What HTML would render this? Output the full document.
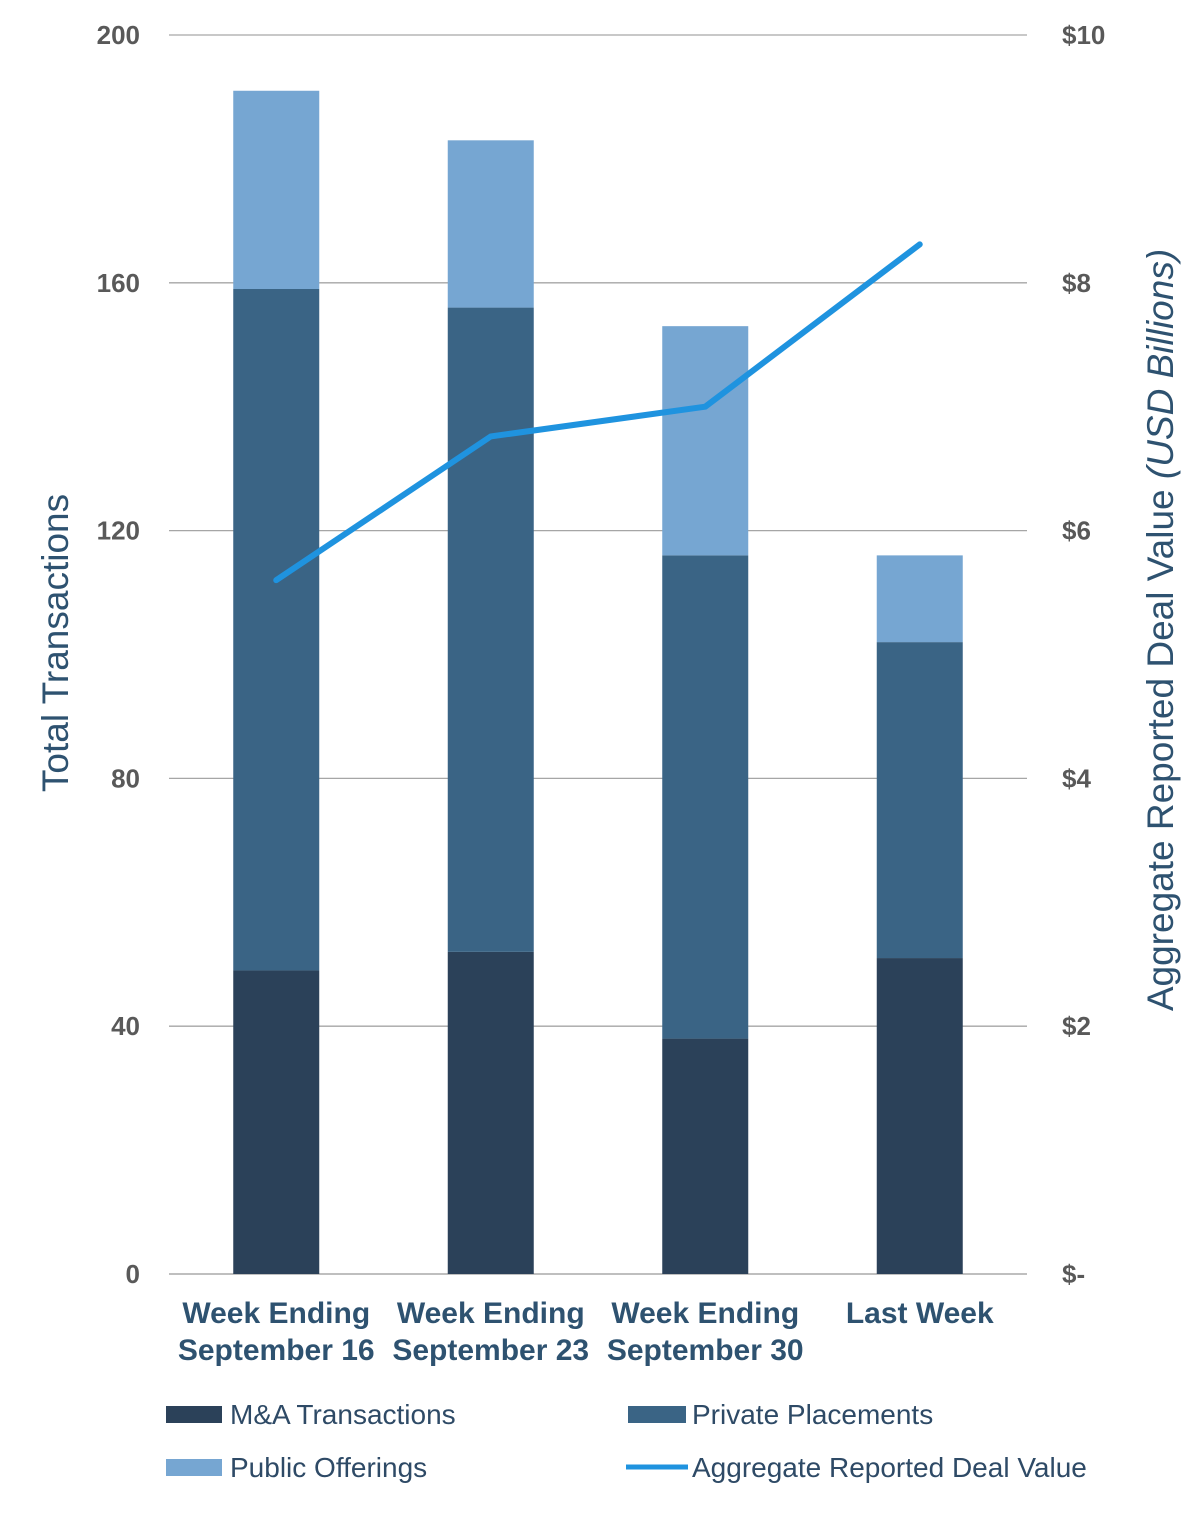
<!DOCTYPE html>
<html><head><meta charset="utf-8"><style>
body{margin:0;background:#fff;}
svg text{font-family:"Liberation Sans",sans-serif;}
</style></head><body>
<svg id="chart" width="1200" height="1511" viewBox="0 0 1200 1511" xmlns="http://www.w3.org/2000/svg">
<g id="grid"></g>
<g id="bars"></g>
<g id="line"></g>
<g id="ticks"></g>
<text transform="translate(68,643) rotate(-90)" text-anchor="middle" font-size="37" fill="#2e5270">Total Transactions</text>
<text transform="translate(1173,630) rotate(-90)" text-anchor="middle" font-size="37" fill="#2e5270">Aggregate Reported Deal Value <tspan font-style="italic">(USD Billions)</tspan></text>
<g font-size="28" fill="#2e4a66">
<rect x="166" y="1406" width="56" height="17" fill="#2b4159"/>
<text x="230" y="1424">M&amp;A Transactions</text>
<rect x="628" y="1406" width="58" height="17" fill="#3a6485"/>
<text x="692" y="1424">Private Placements</text>
<rect x="166" y="1459" width="56" height="17" fill="#76a6d2"/>
<text x="230" y="1477">Public Offerings</text>
<line x1="626" y1="1467" x2="688" y2="1467" stroke="#1f93df" stroke-width="5"/>
<text x="692" y="1477">Aggregate Reported Deal Value</text>
</g>
</svg>
<script>
const categories1 = ["Week Ending","Week Ending","Week Ending","Last Week"];
const categories2 = ["September 16","September 23","September 30",""];
const maValues = [49, 52, 38, 51];
const ppValues = [110, 104, 78, 51];
const poValues = [32, 27, 37, 14];
const dealValues = [5.6, 6.76, 7.0, 8.31];
const leftTicks = [0, 40, 80, 120, 160, 200];
const rightTicks = ["$-","$2","$4","$6","$8","$10"];
const rightTickValues = [0,2,4,6,8,10];

const NS="http://www.w3.org/2000/svg";
const X0=169,X1=1027,Y0=1274,Y1=35;
const y=v=>Y0-(v/200)*(Y0-Y1);
const y2=v=>Y0-(v/10)*(Y0-Y1);
const band=(X1-X0)/categories1.length;
const xc=i=>X0+band*(i+0.5);
function mk(tag,attrs,parent){const e=document.createElementNS(NS,tag);for(const k in attrs)e.setAttribute(k,attrs[k]);parent.appendChild(e);return e;}
const grid=document.getElementById('grid'),bars=document.getElementById('bars'),line=document.getElementById('line'),ticks=document.getElementById('ticks');
leftTicks.forEach((t,i)=>{
  const l=mk('line',{x1:X0,x2:X1,y1:y(t),y2:y(t),stroke:i==0?'#999':'#a6a6a6','stroke-width':1.3},grid);
  
  
  const tx=mk('text',{x:140,y:y(t)+9,'text-anchor':'end','font-size':26,'font-weight':'bold',fill:'#595959'},ticks);
  tx.textContent=t;
  
  
});
rightTickValues.forEach((t,i)=>{
  const tx=mk('text',{x:1062,y:y2(t)+9,'font-size':26,'font-weight':'bold',fill:'#595959'},ticks);
  tx.textContent=rightTicks[i];
  
  
});
const W=86;
categories1.forEach((c,i)=>{
  const x=xc(i)-W/2;
  let base=0;
  [[maValues,'#2b4159','bar-ma'],[ppValues,'#3a6485','bar-pp'],[poValues,'#76a6d2','bar-po']].forEach(([arr,col,nm])=>{
    const v=arr[i];
    const r=mk('rect',{x:x,y:y(base+v),width:W,height:y(base)-y(base+v),fill:col},bars);
    
    
    base+=v;
  });
  const t1=mk('text',{x:xc(i),y:1323,'text-anchor':'middle','font-size':30,'font-weight':'bold',fill:'#2e5270'},ticks);
  t1.textContent=c;
  
  
  if(categories2[i]){
    const t2=mk('text',{x:xc(i),y:1360,'text-anchor':'middle','font-size':30,'font-weight':'bold',fill:'#2e5270'},ticks);
    t2.textContent=categories2[i];
    
    
  }
});
const pts=dealValues.map((v,i)=>xc(i)+','+y2(v)).join(' ');
const pl=mk('polyline',{points:pts,fill:'none',stroke:'#1f93df','stroke-width':6,'stroke-linejoin':'round','stroke-linecap':'round'},line);


</script>
</body></html>
